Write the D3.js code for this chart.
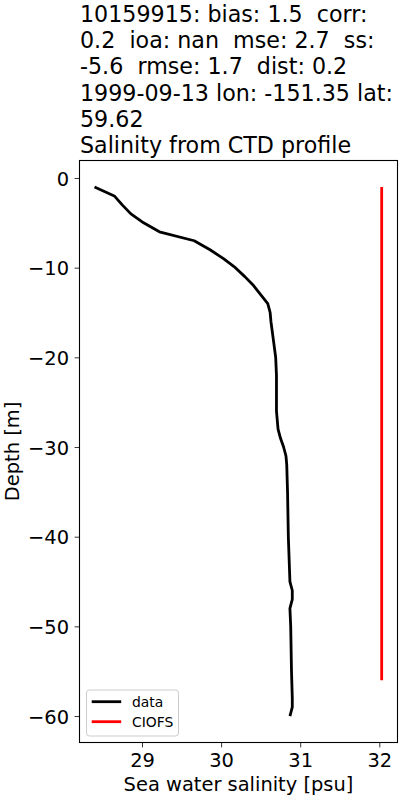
<!DOCTYPE html>
<html>
<head>
<meta charset="UTF-8">
<style>
  body { margin: 0; background: #fff; }
  svg { font-family: "DejaVu Sans", sans-serif; }
  .tick text { font-family: "DejaVu Sans", sans-serif; font-size: 19.44px; fill: #000; }
  .tick line { stroke: #000; stroke-width: 0.8px; }
  .domain { display: none; }
  .title { white-space: pre; }
</style>
<script src="https://cdn.jsdelivr.net/npm/d3@7"></script>
</head>
<body>
<div id="chart"></div>
<script>
// title lines
const titleLines = [
  "10159915: bias: 1.5  corr:",
  "0.2  ioa: nan  mse: 2.7  ss:",
  "-5.6  rmse: 1.7  dist: 0.2",
  "1999-09-13 lon: -151.35 lat:",
  "59.62",
  "Salinity from CTD profile"
];

// CTD profile (data)
const depth = [-1, -2, -3, -4, -5, -6, -7, -8, -9, -10, -11, -12, -13, -14, -15, -16, -18, -20,
  -22, -24, -26, -27, -28, -29, -30, -31, -32, -35, -40, -45, -46, -47, -48, -50, -55, -58, -59, -60];
const salinity = [28.40, 28.65, 28.75, 28.86, 29.02, 29.22, 29.66, 29.86, 30.03, 30.18, 30.30, 30.41,
  30.50, 30.59, 30.62, 30.63, 30.66, 30.69, 30.70, 30.70, 30.70, 30.71, 30.72, 30.75, 30.79, 30.82,
  30.83, 30.84, 30.85, 30.87, 30.90, 30.90, 30.87, 30.88, 30.89, 30.90, 30.90, 30.87];

// model (CIOFS)
const modelDepth = [-1, -56];
const modelSalinity = [32.03, 32.03];

const xTicks = [29, 30, 31, 32];
const yTicks = [0, -10, -20, -30, -40, -50, -60];

const W = 400, H = 800;
const m = { left: 79.5, top: 160.5, right: 397.5, bottom: 742.5 };

const svg = d3.select("#chart").append("svg")
  .attr("width", W).attr("height", H);

const x = d3.scaleLinear().domain([28.21, 32.23]).range([m.left, m.right]);
const y = d3.scaleLinear().domain([1.95, -62.95]).range([m.top, m.bottom]);

// title
svg.append("text")
  .attr("class", "title")
  .attr("xml:space", "preserve")
  .style("font-size", "22.2px")
  .selectAll("tspan")
  .data(titleLines)
  .enter().append("tspan")
    .attr("x", 80)
    .attr("y", (d, i) => 21.8 + i * 26.3)
    .text(d => d);

// axes
svg.append("g")
  .attr("transform", "translate(0," + m.bottom + ")")
  .call(d3.axisBottom(x).tickValues(xTicks).tickSize(4.9).tickPadding(4.9).tickFormat(d3.format("d")))
  .selectAll(".tick text").attr("dy", "0.78em");

svg.append("g")
  .attr("transform", "translate(" + m.left + ",0)")
  .call(d3.axisLeft(y).tickValues(yTicks).tickSize(4.9).tickPadding(5.5)
    .tickFormat(d => d < 0 ? "\u2212" + Math.abs(d) : d))
  .selectAll(".tick text").attr("dy", "0.37em");

// lines
const line = d3.line().x(d => x(d[0])).y(d => y(d[1]));

svg.append("path")
  .datum(d3.zip(salinity, depth))
  .attr("d", line)
  .attr("fill", "none")
  .attr("stroke", "#000")
  .attr("stroke-width", 2.8)
  .attr("stroke-linejoin", "round");

svg.append("path")
  .datum(d3.zip(modelSalinity, modelDepth))
  .attr("d", line)
  .attr("fill", "none")
  .attr("stroke", "#ff0000")
  .attr("stroke-width", 2.8);

// frame
svg.append("rect")
  .attr("x", m.left).attr("y", m.top)
  .attr("width", m.right - m.left).attr("height", m.bottom - m.top)
  .attr("fill", "none").attr("stroke", "#000").attr("stroke-width", 1.1);

// axis labels
svg.append("text")
  .attr("x", (m.left + m.right) / 2).attr("y", 791)
  .attr("text-anchor", "middle")
  .style("font-size", "19.44px")
  .text("Sea water salinity [psu]");

svg.append("text")
  .attr("transform", "translate(18.5," + (m.top + m.bottom) / 2 + ") rotate(-90)")
  .attr("text-anchor", "middle")
  .style("font-size", "19.44px")
  .text("Depth [m]");

// legend
const legendItems = [{ name: "data", color: "#000" }, { name: "CIOFS", color: "#ff0000" }];
const lg = svg.append("g");
lg.append("rect")
  .attr("x", 86.5).attr("y", 690).attr("width", 92).attr("height", 46)
  .attr("rx", 3).attr("fill", "#fff").attr("fill-opacity", 0.8)
  .attr("stroke", "#ccc").attr("stroke-width", 1);
const items = lg.selectAll(".item").data(legendItems).enter().append("g")
  .attr("transform", (d, i) => "translate(0," + (701.7 + i * 20) + ")");
items.append("line")
  .attr("x1", 91.7).attr("x2", 121.2)
  .attr("stroke", d => d.color).attr("stroke-width", 2.8);
items.append("text")
  .attr("x", 132).attr("y", 5)
  .style("font-size", "13.9px")
  .text(d => d.name);
</script>
</body>
</html>
